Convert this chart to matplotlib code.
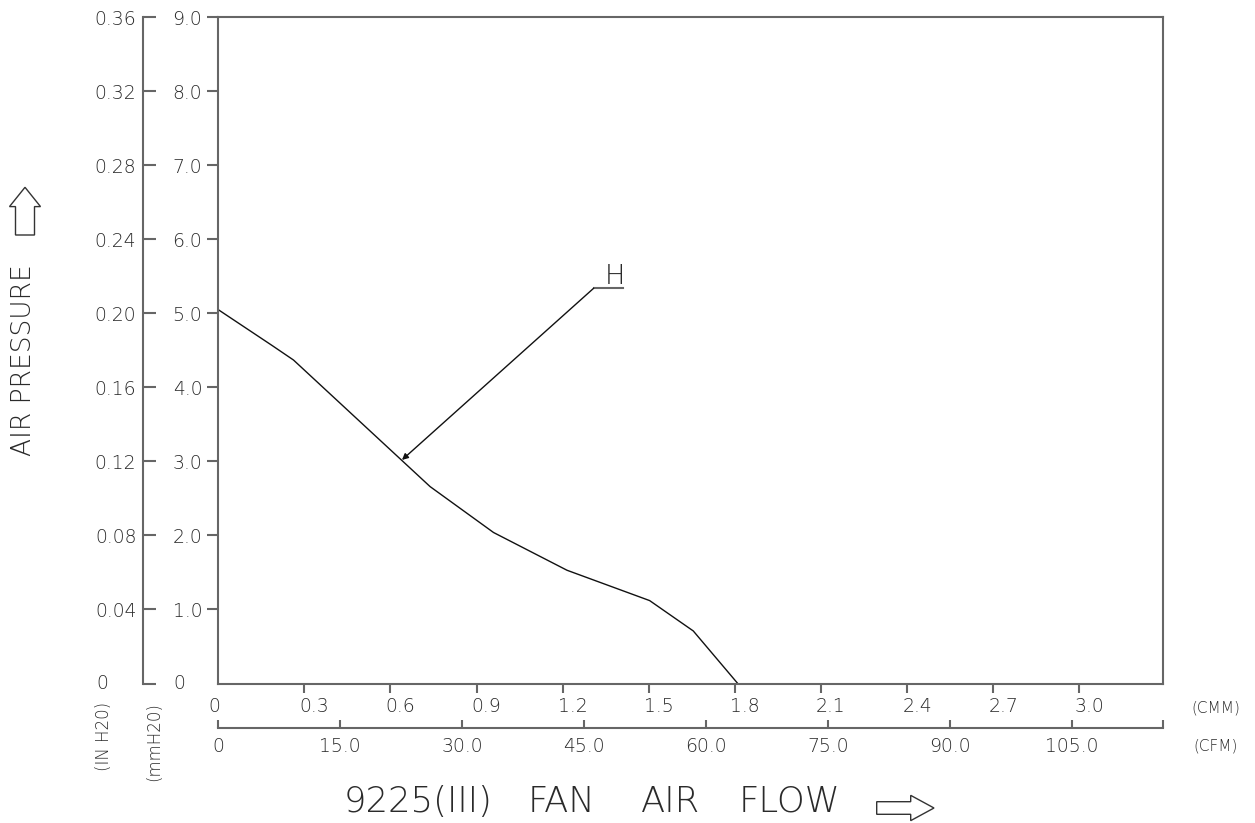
import matplotlib
matplotlib.use('Agg')
import matplotlib.pyplot as plt
from matplotlib.patches import FancyArrow
from matplotlib.transforms import ScaledTranslation

plt.rcParams['font.family'] = ['DejaVu Sans']
plt.rcParams['font.weight'] = 'light'

# fan curve H (CMM vs mmH2O)
cmm = [0, 0.186, 0.262, 0.738, 0.959, 1.215, 1.503, 1.655, 1.81]
mmh2o = [5.05, 4.57, 4.37, 2.66, 2.04, 1.53, 1.12, 0.71, 0]

cmm_ticks = [0.3, 0.6, 0.9, 1.2, 1.5, 1.8, 2.1, 2.4, 2.7, 3.0]
cmm_label_vals = [0] + cmm_ticks
cmm_labels = ['0'] + [f'{v:.1f}' for v in cmm_ticks]
cfm_ticks = [0, 15, 30, 45, 60, 75, 90, 105]
cfm_labels = ['0'] + [f'{v:.1f}' for v in cfm_ticks[1:]]
mm_ticks = [1, 2, 3, 4, 5, 6, 7, 8, 9]
inch_ticks = [0, 0.04, 0.08, 0.12, 0.16, 0.20, 0.24, 0.28, 0.32, 0.36]

H_tip = (0.64, 3.02)
H_tail = (1.308, 5.34)
H_shelf_end = 1.409

CMM_TO_CFM = 35.31
MM_TO_IN = 0.04
XMAX = 3.29

W, H = 1255, 823
gray = '#666666'
txt = '#2a2a2a'
tsize = 13.5


def fx(px):
    return px / W


def fy(py):
    return 1 - py / H


fig = plt.figure(figsize=(W / 100, H / 100), dpi=100)
ax = fig.add_axes([fx(218.3), fy(683.5), (1162.5 - 218.3) / W, (683.5 - 17.3) / H])

ax.plot(cmm, mmh2o, color='#111111', lw=1.0)
ax.set_xlim(0, XMAX)
ax.set_ylim(0, 9)
for s in ax.spines.values():
    s.set_color(gray)
    s.set_linewidth(1.5)

ax.set_yticks(mm_ticks, [f'{v:.1f}' for v in mm_ticks])
ax.tick_params(axis='y', direction='out', length=7.9, width=1.5, color=gray,
               pad=3.6, labelsize=tsize, labelcolor=txt)
ax.set_xticks(cmm_ticks)
ax.tick_params(axis='x', direction='out', length=6.5, width=1.5, color=gray,
               labelbottom=False)

# CMM labels sit a little right of their ticks, like the drawing
for v, lab in zip(cmm_label_vals, cmm_labels):
    dx = -4 if v == 0 else 10
    tr = ax.get_xaxis_transform() + ScaledTranslation(dx / 100, -22.5 / 100, fig.dpi_scale_trans)
    ax.text(v, 0, lab, transform=tr, ha='center', va='center', size=tsize, color=txt)

# CFM scale
sec = ax.secondary_xaxis(-0.0672, functions=(lambda x: x * CMM_TO_CFM, lambda x: x / CMM_TO_CFM))
sec.set_xticks(cfm_ticks + [XMAX * CMM_TO_CFM], cfm_labels + [''])
sec.tick_params(direction='in', length=5.8, width=1.5, color=gray, pad=6.0,
                labelsize=tsize, labelcolor=txt)
sec.spines['bottom'].set_color(gray)
sec.spines['bottom'].set_linewidth(1.5)

# inch H2O scale
secy = ax.secondary_yaxis(-0.0794, functions=(lambda y: y * MM_TO_IN, lambda y: y / MM_TO_IN))
secy.set_yticks(inch_ticks, [''] + [f'{v:.2f}' for v in inch_ticks[1:]])
secy.tick_params(direction='in', length=9.4, width=1.5, color=gray, pad=5,
                 labelsize=tsize, labelcolor=txt)
secy.spines['left'].set_color(gray)
secy.spines['left'].set_linewidth(1.5)

ytr = ax.get_yaxis_transform()
ax.text(-0.1232, 0, '0', transform=ytr, ha='center', va='center', size=tsize, color=txt)
ax.text(-0.0416, 0, '0', transform=ytr, ha='center', va='center', size=tsize, color=txt)

# curve tag
ax.annotate('', xy=H_tip, xytext=H_tail,
            arrowprops=dict(arrowstyle='-|>', color='#111111', lw=1.0,
                            mutation_scale=9, shrinkA=0, shrinkB=0))
ax.plot([H_tail[0], H_shelf_end], [H_tail[1], H_tail[1]], color=gray, lw=1.5)
ax.text(1.382, 5.40, 'H', size=19.5, ha='center', va='baseline', color=txt)

# unit labels
fig.text(fx(104), fy(702), '(IN H20)', rotation=90, ha='center', va='top', size=12, color=txt)
fig.text(fx(154), fy(702), '(mmH20)', rotation=90, ha='center', va='top', size=12, color=txt)
fig.text(fx(1216), fy(708), '(CMM)', ha='center', va='center', size=11, color=txt)
fig.text(fx(1216), fy(746), '(CFM)', ha='center', va='center', size=11, color=txt)

# axis titles
fig.text(fx(24), fy(360), 'AIR PRESSURE', rotation=90, ha='center', va='center',
         size=19, color=txt)
for word, cx in [('9225(III)', 418.5), ('FAN', 561), ('AIR', 670.8), ('FLOW', 789.7)]:
    fig.text(fx(cx), fy(812), word, ha='center', va='baseline', size=25.5, color=txt)


def hollow_arrow(x0, y0, x1, y1, shaft, head, head_len):
    a = FancyArrow(x0 / 100, (H - y0) / 100, (x1 - x0) / 100, (y0 - y1) / 100,
                   width=shaft / 100, head_width=head / 100, head_length=head_len / 100,
                   length_includes_head=True, fill=False, ec='#333333', lw=1.0,
                   transform=fig.dpi_scale_trans)
    fig.add_artist(a)


hollow_arrow(25, 235, 25, 187.3, 19, 31, 19.3)
hollow_arrow(876.7, 808, 934, 808, 12.6, 25.3, 23.3)

fig.savefig('out.png', dpi=100)
